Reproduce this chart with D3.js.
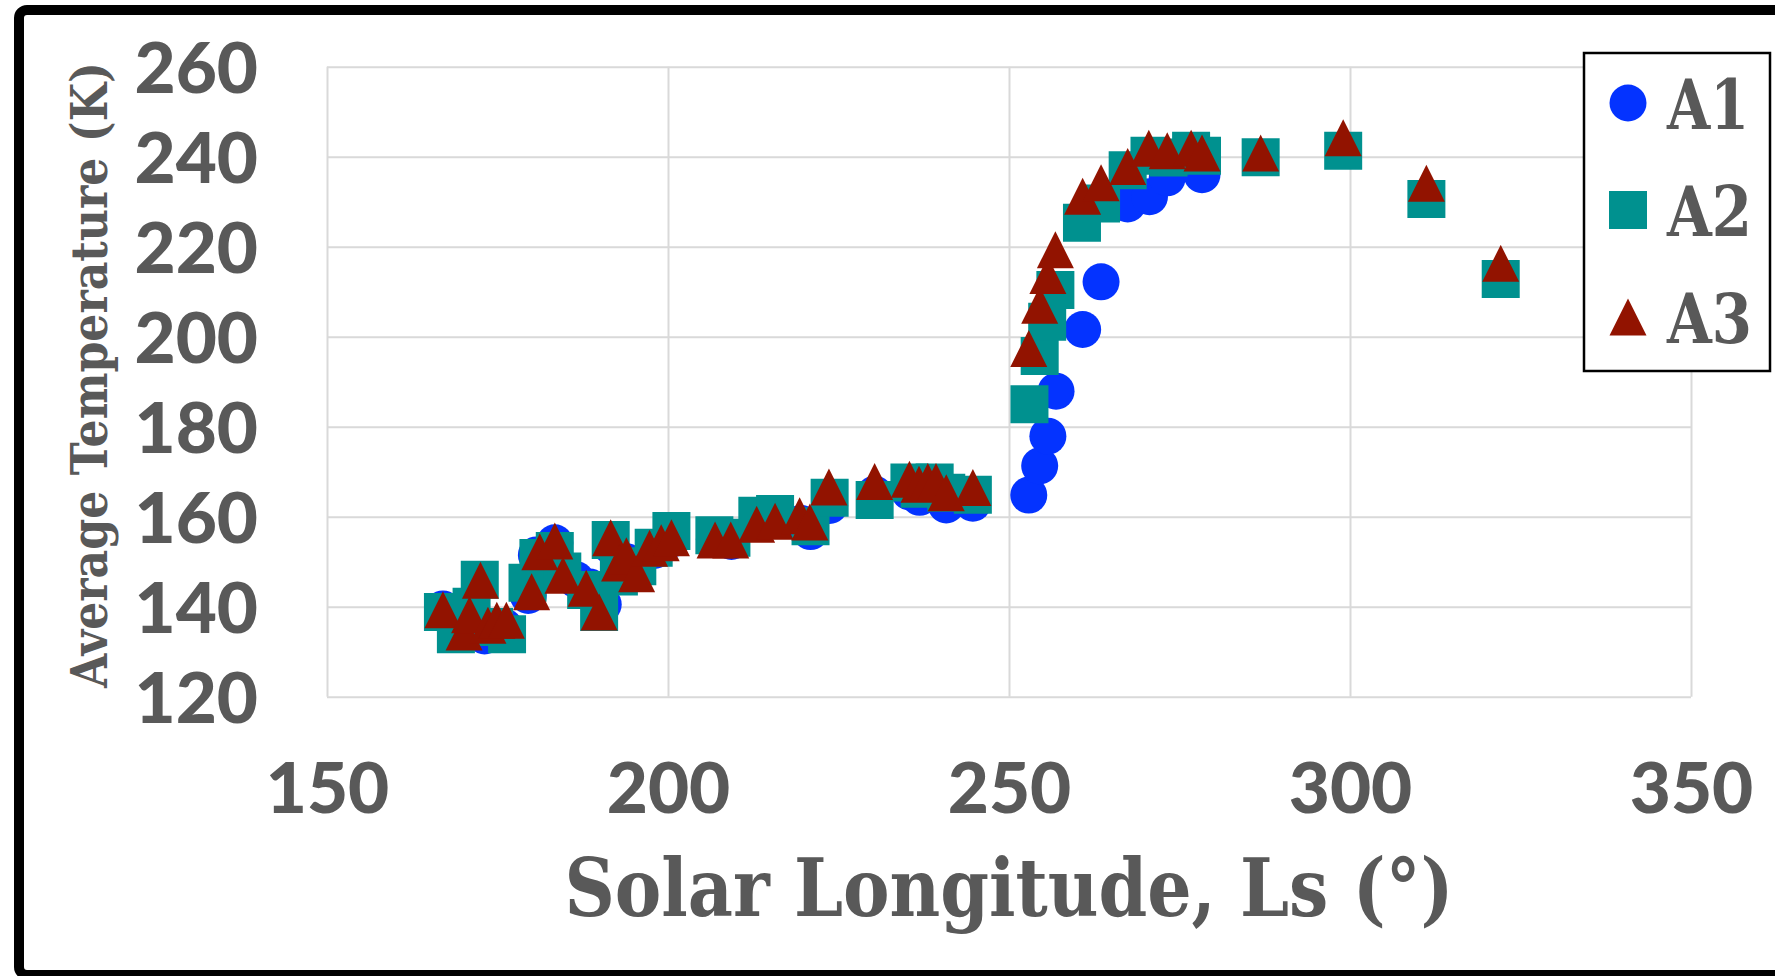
<!DOCTYPE html>
<html>
<head>
<meta charset="utf-8">
<script src="https://cdn.jsdelivr.net/npm/d3@7"></script>
<style>
    body { margin: 0; background: #fff; }
    svg { display: block; }
</style>
</head>
<body>
<svg id="chart" width="1775" height="976"></svg>
<script>
// tick values
var xTicks = [150, 200, 250, 300, 350];
var yTicks = [120, 140, 160, 180, 200, 220, 240, 260];
var seriesNames = ["A1", "A2", "A3"];

// A1 (circles)
var a1Ls = [167.0, 169.0, 171.5, 173.1, 176.0, 179.5, 180.7, 183.4, 184.5, 186.5, 188.5, 190.5, 191.6, 193.9, 195.5, 198.0,
    200.5, 206.8, 209.3, 213.1, 215.7, 219.5, 220.9, 223.7, 230.3, 235.4, 236.9, 238.5, 240.8, 244.7,
    252.9, 254.5, 255.7, 256.9, 260.8, 263.5, 267.4, 270.6, 273.2, 278.3];
var a1Temp = [139.5, 135.0, 137.5, 133.5, 135.5, 142.5, 151.5, 154.2, 148.0, 146.0, 144.4, 140.5, 153.5, 150.0, 148.5, 152.5,
    155.0, 155.0, 154.5, 158.5, 159.5, 158.5, 156.7, 162.5, 165.0, 165.5, 164.3, 165.5, 162.6, 163.0,
    164.8, 171.3, 177.9, 187.9, 201.6, 212.2, 229.5, 231.1, 235.3, 236.0];

// A2 (squares)
var a2Ls = [167.0, 168.9, 171.2, 172.4, 174.5, 176.4, 179.4, 181.0, 183.4, 184.5, 188.0, 189.9, 191.6, 192.8, 195.5, 197.9,
    200.5, 206.8, 209.3, 213.1, 215.7, 220.9, 223.7, 230.3, 235.4, 236.9, 239.1, 240.8, 244.7,
    253.0, 254.5, 255.6, 256.8, 260.7, 263.5, 267.4, 270.6, 273.4, 276.7, 278.3, 286.9, 299.0, 311.2, 322.1];
var a2Temp = [138.8, 133.9, 140.0, 146.0, 135.5, 133.9, 145.3, 150.8, 152.4, 147.8, 143.7, 138.8, 154.8, 146.7, 149.0, 153.1,
    156.8, 155.9, 155.3, 160.2, 160.6, 157.9, 164.2, 163.7, 167.6, 166.2, 167.6, 165.3, 164.9,
    185.0, 195.7, 203.3, 210.4, 225.3, 229.6, 237.0, 240.2, 239.8, 241.3, 240.2, 239.9, 241.3, 230.6, 212.8];

// A3 (triangles)
var a3Ls = [167.0, 170.1, 170.9, 172.5, 173.6, 174.9, 176.3, 180.0, 181.2, 183.4, 184.6, 188.0, 189.9, 191.6, 192.9, 193.9,
    195.4, 197.3, 199.0, 200.5, 206.9, 209.2, 213.0, 215.7, 219.3, 220.8, 223.6, 230.3, 235.4, 236.8,
    238.1, 239.3, 240.8, 244.7, 252.9, 254.5, 255.7, 256.8, 260.8, 263.5, 267.4, 270.5, 273.2, 276.7,
    278.3, 286.9, 299.0, 311.2, 322.1];
var a3Temp = [139.3, 134.4, 138.2, 145.9, 135.9, 137.0, 137.0, 143.3, 152.2, 154.6, 147.0, 144.1, 138.8, 155.3, 149.7, 151.3,
    147.3, 153.0, 154.2, 155.3, 154.8, 154.8, 158.3, 159.0, 160.2, 158.8, 166.6, 167.8, 168.3, 167.2,
    167.8, 167.8, 165.3, 166.5, 197.4, 207.0, 213.6, 219.3, 231.2, 234.2, 237.8, 241.9, 241.3, 241.9,
    240.8, 240.8, 244.2, 234.1, 216.3];

var svg = d3.select("#chart");
var textColor = "#595959";
var tickFont = "Lato, 'Open Sans', sans-serif";
var titleFont = "'DejaVu Serif', serif";

var plot = {left: 327, right: 1691, top: 66.7, bottom: 696.7};

var x = d3.scaleLinear().domain([150, 350]).range([plot.left, plot.right]);
var y = d3.scaleLinear().domain([120, 260]).range([plot.bottom, plot.top]);

/**
 * isoceles triangle, as wide as it is tall, centred on its box
 */
var boxTriangle = {
    draw: function (context, size) {
        var h = Math.sqrt(size);
        context.moveTo(0, -h / 2);
        context.lineTo(h / 2, h / 2);
        context.lineTo(-h / 2, h / 2);
        context.closePath();
    }
};

var styles = [
    {type: d3.symbolCircle, size: Math.PI * 18.5 * 18.5, color: "#0433FF"},
    {type: d3.symbolSquare, size: 38 * 38, color: "#00918F"},
    {type: boxTriangle, size: 37 * 37, color: "#921300"}
];

var series = [
    {name: seriesNames[0], ls: a1Ls, temp: a1Temp},
    {name: seriesNames[1], ls: a2Ls, temp: a2Temp},
    {name: seriesNames[2], ls: a3Ls, temp: a3Temp}
];

// outer frame
svg.append("rect")
    .attr("x", 19).attr("y", 10)
    .attr("width", 1800).attr("height", 965)
    .attr("rx", 8)
    .style("fill", "white")
    .style("stroke", "black")
    .style("stroke-width", 10);

// gridlines
svg.append("g")
    .attr("class", "grid")
    .attr("transform", "translate(0," + plot.bottom + ")")
    .call(d3.axisBottom(x).tickValues(xTicks).tickSize(-(plot.bottom - plot.top)).tickFormat(""))
    .call(function (g) { g.select(".domain").remove(); });

svg.append("g")
    .attr("class", "grid")
    .attr("transform", "translate(" + plot.left + ",0)")
    .call(d3.axisLeft(y).tickValues(yTicks).tickSize(-(plot.right - plot.left)).tickFormat(""))
    .call(function (g) { g.select(".domain").remove(); });

svg.selectAll(".grid line")
    .style("stroke", "#d9d9d9")
    .style("stroke-width", 2);

// tick labels
var xAxis = svg.append("g")
    .attr("transform", "translate(0," + plot.bottom + ")")
    .call(d3.axisBottom(x).tickValues(xTicks).tickSize(0).tickPadding(66).tickFormat(d3.format("d")));

var yAxis = svg.append("g")
    .attr("transform", "translate(" + plot.left + ",0)")
    .call(d3.axisLeft(y).tickValues(yTicks).tickSize(0).tickPadding(69).tickFormat(d3.format("d")));

[xAxis, yAxis].forEach(function (g) {
    g.select(".domain").remove();
    g.selectAll("text")
        .style("font-family", tickFont)
        .style("font-weight", 900)
        .style("font-size", "71px")
        .style("fill", textColor);
});
yAxis.selectAll("text").attr("dy", "0.36em");

// axis titles
svg.append("text")
    .attr("x", (plot.left + plot.right) / 2)
    .attr("y", 916)
    .attr("text-anchor", "middle")
    .attr("textLength", 889)
    .attr("lengthAdjust", "spacingAndGlyphs")
    .style("font-family", titleFont)
    .style("font-weight", "bold")
    .style("font-size", "80px")
    .style("fill", textColor)
    .text("Solar Longitude, Ls (°)");

svg.append("text")
    .attr("transform", "translate(107,375) rotate(-90)")
    .attr("text-anchor", "middle")
    .attr("textLength", 626)
    .attr("lengthAdjust", "spacingAndGlyphs")
    .style("font-family", titleFont)
    .style("font-weight", "bold")
    .style("font-size", "51px")
    .style("fill", textColor)
    .text("Average Temperature (K)");

// markers
series.forEach(function (s, i) {
    var st = styles[i];
    var pts = s.ls.map(function (v, k) {
        return {ls: v, temp: s.temp[k]};
    });
    svg.append("g")
        .attr("class", "series")
        .selectAll("path")
        .data(pts)
        .enter().append("path")
        .attr("d", d3.symbol().type(st.type).size(st.size))
        .attr("transform", function (d) {
            return "translate(" + x(d.ls) + "," + y(d.temp) + ")";
        })
        .style("fill", st.color);
});

// legend
var legend = svg.append("g").attr("class", "legend");
legend.append("rect")
    .attr("x", 1584).attr("y", 53)
    .attr("width", 186).attr("height", 318)
    .style("fill", "white")
    .style("stroke", "black")
    .style("stroke-width", 2.5);

var legendRows = [103, 210, 317];
var legendWidths = [82, 85, 85];

series.forEach(function (s, i) {
    var st = styles[i];
    legend.append("path")
        .attr("d", d3.symbol().type(st.type).size(st.size))
        .attr("transform", "translate(1628," + legendRows[i] + ")")
        .style("fill", st.color);
    legend.append("text")
        .attr("x", 1667)
        .attr("y", legendRows[i] + 26)
        .attr("textLength", legendWidths[i])
        .attr("lengthAdjust", "spacingAndGlyphs")
        .style("font-family", titleFont)
        .style("font-weight", "bold")
        .style("font-size", "70px")
        .style("fill", textColor)
        .text(s.name);
});
</script>
</body>
</html>
